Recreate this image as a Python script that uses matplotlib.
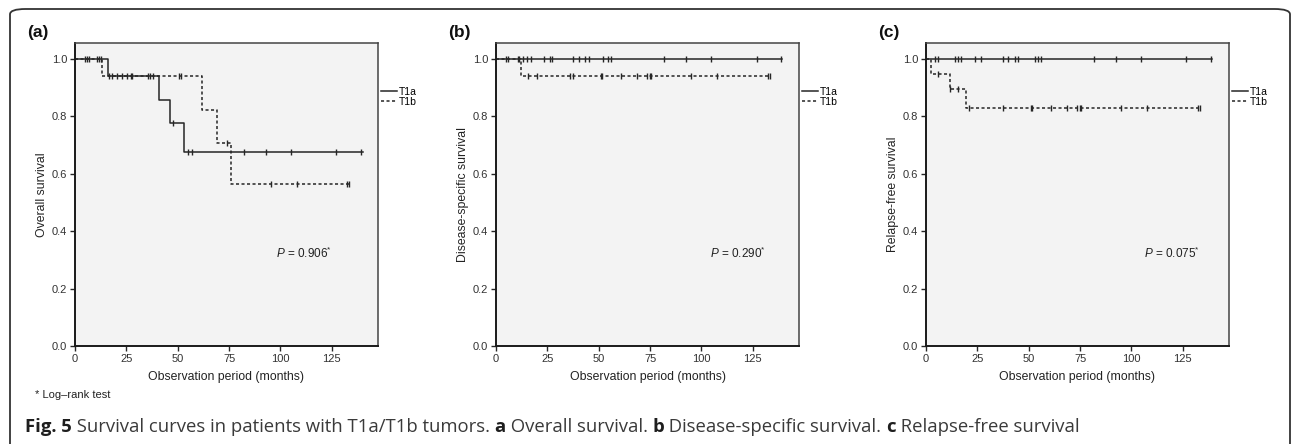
import numpy as np
import matplotlib
matplotlib.use("Agg")
import matplotlib.pyplot as plt
from matplotlib.patches import FancyBboxPatch

plt.rcParams["font.family"] = ["Liberation Sans", "DejaVu Sans"]
plt.rcParams["mathtext.fontset"] = "custom"
plt.rcParams["mathtext.rm"] = "Liberation Sans"
plt.rcParams["mathtext.it"] = "Liberation Sans:italic"

# ---- data (months, survival proportion) ----
panel_tags = ["(a)", "(b)", "(c)"]
y_labels = ["Overall survival", "Disease-specific survival", "Relapse-free survival"]
p_values = ["0.906", "0.290", "0.075"]
p_text_x = [98, 104, 106]
group_names = ["T1a", "T1b"]

# (a) overall survival
a_t1a_times = [0, 16.2, 40.9, 46.2, 53.0]
a_t1a_surv = [1.0, 0.941, 0.857, 0.776, 0.677]
a_t1a_end = 140
a_t1a_cens = [5.0, 5.8, 6.6, 10.8, 11.7, 16.7, 17.8, 20.3, 22.7, 25.1, 27.2, 27.9,
              35.7, 36.5, 38.1, 47.8, 55.1, 57.1, 82.2, 93.2, 105.1, 127.1, 139.4]
a_t1b_times = [0, 13.3, 61.6, 68.9, 76.0]
a_t1b_surv = [1.0, 0.941, 0.823, 0.706, 0.565]
a_t1b_end = 134
a_t1b_cens = [12.5, 50.8, 51.6, 74.1, 95.2, 108.3, 132.6, 133.4]

# (b) disease-specific survival
b_t1a_times = [0]
b_t1a_surv = [1.0]
b_t1a_end = 139
b_t1a_cens = [5.0, 5.8, 10.6, 11.3, 13.2, 15.2, 17.0, 23.6, 26.5, 27.2, 37.6, 40.6,
              43.5, 45.5, 52.3, 54.3, 56.2, 81.7, 92.6, 104.9, 127.1, 138.6]
b_t1b_times = [0, 12.3]
b_t1b_surv = [1.0, 0.941]
b_t1b_end = 134
b_t1b_cens = [15.5, 20.0, 35.8, 37.3, 50.9, 51.6, 60.9, 68.5, 73.3, 74.8, 75.5,
              94.7, 107.8, 132.4, 133.4]

# (c) relapse-free survival
c_t1a_times = [0]
c_t1a_surv = [1.0]
c_t1a_end = 139
c_t1a_cens = [4.4, 5.9, 14.0, 15.6, 17.2, 23.7, 26.9, 37.5, 39.9, 43.5, 45.0,
              52.9, 54.5, 56.1, 81.6, 92.6, 104.8, 126.8, 138.8]
c_t1b_times = [0, 2.6, 11.5, 19.4]
c_t1b_surv = [1.0, 0.947, 0.894, 0.830]
c_t1b_end = 134
c_t1b_cens = [5.8, 11.9, 15.8, 20.9, 37.5, 50.9, 51.6, 60.9, 68.5, 73.3, 74.8, 75.5,
              94.7, 107.8, 132.4, 133.4]

panels = [
    [(a_t1a_times, a_t1a_surv, a_t1a_end, a_t1a_cens), (a_t1b_times, a_t1b_surv, a_t1b_end, a_t1b_cens)],
    [(b_t1a_times, b_t1a_surv, b_t1a_end, b_t1a_cens), (b_t1b_times, b_t1b_surv, b_t1b_end, b_t1b_cens)],
    [(c_t1a_times, c_t1a_surv, c_t1a_end, c_t1a_cens), (c_t1b_times, c_t1b_surv, c_t1b_end, c_t1b_cens)],
]

caption_parts = [("Fig. 5", "bold"), (" Survival curves in patients with T1a/T1b tumors. ", "normal"),
                 ("a", "bold"), (" Overall survival. ", "normal"),
                 ("b", "bold"), (" Disease-specific survival. ", "normal"),
                 ("c", "bold"), (" Relapse-free survival", "normal")]

line_styles = ["-", (0, (2.0, 1.6))]
ink = "#262626"

W, H = 1292, 444
fig = plt.figure(figsize=(W / 100, H / 100), dpi=100)

# rounded frame around the whole figure
frame = FancyBboxPatch((10 / W, -6 / H), 1280 / W, 441 / H,
                       boxstyle="round,pad=0,rounding_size=0.012",
                       transform=fig.transFigure, fill=False,
                       edgecolor="#333333", linewidth=1.3, clip_on=False)
fig.patches.append(frame)

ax_lefts = [75, 496, 926]
ax_w, ax_top, ax_bot = 303, 43, 346

for i, left in enumerate(ax_lefts):
    ax = fig.add_axes([left / W, (H - ax_bot) / H, ax_w / W, (ax_bot - ax_top) / H])
    ax.set_facecolor("#f3f3f3")

    # draw curves: T1b first so solid T1a lies on top
    for g in [1, 0]:
        times, surv, end, cens = panels[i][g]
        xs = list(times) + [end]
        ys = list(surv) + [surv[-1]]
        ax.plot(xs, ys, drawstyle="steps-post", color=ink,
                linestyle=line_styles[g], linewidth=1.1, label=group_names[g])
        cens = np.array(cens)
        idx = np.searchsorted(np.array(times), cens, side="right") - 1
        ax.plot(cens, np.array(surv)[idx], linestyle="none", marker="|",
                markersize=5, markeredgewidth=1.0, color=ink)

    ax.set_xlim(0, 147.5)
    ax.set_ylim(0, 1.056)
    ax.set_xticks([0, 25, 50, 75, 100, 125])
    ax.set_yticks([0.0, 0.2, 0.4, 0.6, 0.8, 1.0])
    ax.set_yticklabels([f"{v:.1f}" for v in [0.0, 0.2, 0.4, 0.6, 0.8, 1.0]])
    ax.tick_params(labelsize=8, length=3.5, width=1.0, pad=2, color=ink, labelcolor="#333333")
    for side in ["top", "right"]:
        ax.spines[side].set_color("#444444")
        ax.spines[side].set_linewidth(1.1)
    for side in ["left", "bottom"]:
        ax.spines[side].set_color("#1a1a1a")
        ax.spines[side].set_linewidth(1.4)

    ax.set_xlabel("Observation period (months)", fontsize=8.8, color="#222222", labelpad=5)
    ax.set_ylabel(y_labels[i], fontsize=8.8, color="#222222", labelpad=3)

    ax.text(p_text_x[i], 0.324, f"$P$ = {p_values[i]}$^{{*}}$", fontsize=8.5,
            va="center", ha="left", color="#222222")

    handles, labels = ax.get_legend_handles_labels()
    order = [labels.index(n) for n in group_names]
    ax.legend([handles[k] for k in order], [labels[k] for k in order],
              loc="upper left", bbox_to_anchor=(1.01, 0.855), frameon=False,
              fontsize=7.5, handlelength=1.5, handletextpad=0.2,
              labelspacing=0.0, borderaxespad=0, borderpad=0)

    fig.text((left - 48) / W, 1 - 33 / H, panel_tags[i], fontsize=12.5,
             fontweight="bold", va="center", ha="left", color="#111111")

fig.text(35 / W, 1 - 395 / H, "* Log\u2013rank test", fontsize=8,
         va="center", ha="left", color="#222222")

# caption with bold pieces, laid out one after the other, scaled to the
# width it takes in the reference (x from 25 to about 1072 px)
renderer = fig.canvas.get_renderer()
cap_x0, cap_x1, cap_base = 25, 1072, 432


def lay_caption(size, draw):
    x = cap_x0
    for txt, wt in caption_parts:
        t = fig.text(x / W, 1 - cap_base / H, txt, fontsize=size, fontweight=wt,
                     family=["Open Sans", "DejaVu Sans"], va="baseline", ha="left",
                     color="#1e1e1e" if wt == "bold" else "#3a3a3a")
        x = t.get_window_extent(renderer).x1
        if not draw:
            t.remove()
    return x


trial = 12.0
end_x = lay_caption(trial, draw=False)
lay_caption(trial * (cap_x1 - cap_x0) / (end_x - cap_x0), draw=True)

plt.savefig("out.png", dpi=100)
